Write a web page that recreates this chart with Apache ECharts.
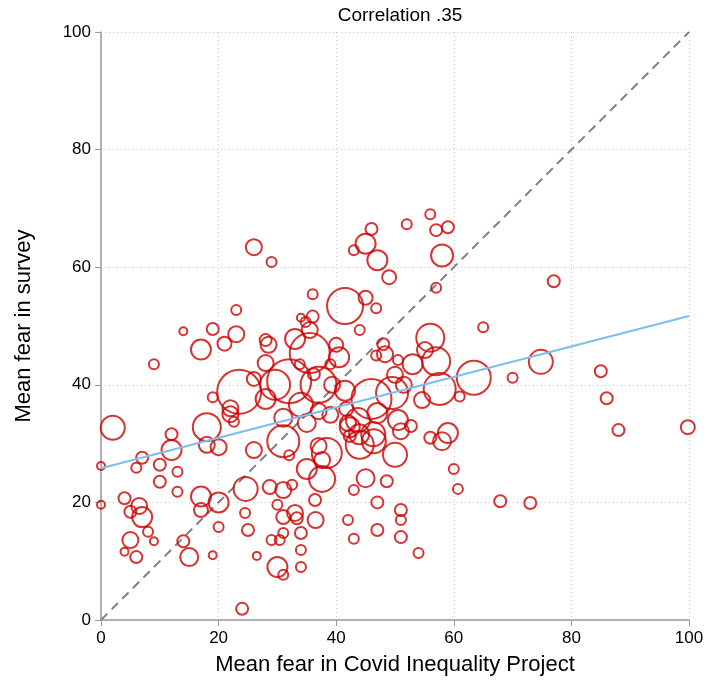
<!DOCTYPE html>
<html>
<head>
<meta charset="utf-8">
<script src="https://cdn.jsdelivr.net/npm/echarts@6/dist/echarts.min.js"></script>
<style>
  html, body { margin: 0; padding: 0; background: #fff; }
  #chart { width: 708px; height: 698px; }
</style>
</head>
<body>
<div id="chart"></div>
<script>
// [x, y, radius(px)]
const points = [
  [0,26.2,4],[0,19.6,4],[2,32.7,12],[4,20.7,6],[5,18.4,6],[5,13.6,8],[4,11.6,4],[6,10.7,6],
  [6.5,19.4,8],[7,17.5,10],[6,25.9,5],[7,27.6,6],[8,15,5],[9,43.5,5],[9,13.4,4],[10,26.4,6],
  [10,23.5,6],[12,31.6,6],[12,28.9,10],[13,25.2,5],[13,21.8,5],[14,49.1,4],[14,13.4,6],[15,10.7,9],
  [17,46,10],[17,21,10],[17,18.7,7],[18,32.8,14],[18,29.8,8],[19,49.5,6],[19,37.9,5],[19,11,4],
  [20,29.4,8],[20,15.8,5],[20,20,10],[21,47,7],[22,35,8],[22,36,8],[22.6,33.7,5],[23,48.6,8],
  [23,52.7,5],[23.5,38.8,22],[24.6,22.3,12],[24.5,18.2,5],[25,15.3,6],[26,63.4,8],[24,1.9,6],
  [26,28.9,8],[26,41,7],[26.5,10.9,4],[28,37.6,10],[28,47.6,6],[28.5,46.8,8],[28,43.7,8],
  [28.7,22.6,7],[29,60.9,5],[29,13.6,5],[30.4,13.6,5],[29.6,40,15],[30,19.6,5],[31,34.4,9],
  [31,30.4,16],[31,22.1,8],[31,17.5,7],[31,14.8,5],[30,9,10],[31,7.7,5],[32,40.6,22],[32,28,5],
  [32.5,23,5],[33,18.2,8],[33,47.8,10],[33.8,43.5,5],[34,36.6,12],[34,14.8,6],[34,11.9,5],
  [34,9,5],[33.3,17.3,6],[34,51.4,4],[34.8,50.7,5],[35,25.7,10],[35,33.5,9],[35.5,45.4,20],
  [35.5,49.3,8],[36,55.4,5],[36,51.6,6],[36.2,41.8,6],[37,40,18],[37,35.5,8],[37,29.6,8],
  [37.6,24,13],[37.6,27.2,8],[36.5,17,8],[36.4,20.4,6],[38.4,28.4,15],[39,34.9,8],[39.3,40,8],
  [39,43.5,5],[40,46.8,7],[40.5,44.7,10],[41.5,53.4,18],[41.5,39,10],[41.7,35.9,7],[42,33.5,8],
  [42.3,32.8,10],[42,17,5],[42.3,31.3,6],[43,62.9,5],[43,13.8,5],[43,22.1,5],[43.7,34,12],
  [43.9,31.6,10],[44,29.8,14],[44,49.3,5],[45,64,10],[45,54.8,7],[45,24.1,9],[46,66.5,6],
  [46,37.6,20],[46.3,31.6,12],[46.4,30.4,12],[46.8,45,5],[46.8,53,5],[47,35.2,10],[47,61.2,10],
  [47,20,6],[47,15.3,6],[48,46.9,6],[48.3,45.2,8],[48.6,23.6,6],[49,58.3,7],[49.5,38.6,16],
  [50,28.1,12],[50,41.7,8],[50.5,44.2,5],[50.5,34,10],[51,32.1,8],[51,18.7,6],[51,17,5],
  [51,14.1,6],[51.5,40,8],[52,67.3,5],[52.7,33,6],[53,43.5,10],[54,11.4,5],[54.6,37.4,8],
  [55.1,45.9,8],[56,48,14],[56,69,5],[56,31,6],[57,56.5,5],[57,66.3,6],[57,44,14],[57.6,39.3,16],
  [58,30.4,9],[58,62,11],[59,66.8,6],[59,31.8,10],[60,25.7,5],[60.7,22.3,5],[61,38,5],
  [63.4,41.2,17],[65,49.8,5],[67.9,20.2,6],[70,41.2,5],[73,19.9,6],[74.8,43.9,12],[77,57.6,6],
  [85,42.3,6],[86,37.7,6],[88,32.3,6],[99.8,32.8,7]
];
const fitLine = [[0, 25.8], [100, 51.7]];
const diagonal = [[0, 0], [100, 100]];

const chart = echarts.init(document.getElementById('chart'));
const font = 'Liberation Sans, Arial, sans-serif';
const gridLine = { show: true, lineStyle: { color: '#c8c8c8', type: [1, 3], width: 1 } };

chart.setOption({
  animation: false,
  title: {
    text: 'Correlation .35', left: 395, top: 1, textAlign: 'center',
    textStyle: { fontFamily: font, fontSize: 19, fontWeight: 'normal', color: '#000' }
  },
  grid: { left: 101, right: 19, top: 32, bottom: 78 },
  xAxis: {
    type: 'value', min: 0, max: 100, interval: 20,
    name: 'Mean fear in Covid Inequality Project', nameLocation: 'middle', nameGap: 34,
    nameTextStyle: { fontFamily: font, fontSize: 22, color: '#000' },
    axisLine: { show: true, onZero: false, lineStyle: { color: '#999', width: 1.5 } },
    axisTick: { show: true, length: 6, lineStyle: { color: '#999' } },
    axisLabel: { fontFamily: font, fontSize: 17, color: '#000', margin: 10 },
    splitLine: gridLine
  },
  yAxis: {
    type: 'value', min: 0, max: 100, interval: 20,
    name: 'Mean fear in survey', nameLocation: 'middle', nameGap: 66,
    nameTextStyle: { fontFamily: font, fontSize: 22, color: '#000' },
    axisLine: { show: true, onZero: false, lineStyle: { color: '#999', width: 1.5 } },
    axisTick: { show: true, length: 6, lineStyle: { color: '#999' } },
    axisLabel: { fontFamily: font, fontSize: 17, color: '#000', margin: 10 },
    splitLine: gridLine
  },
  series: [
    {
      type: 'scatter',
      data: points.map(p => [p[0], p[1], p[2]]),
      symbolSize: v => v[2] * 2,
      itemStyle: { color: 'rgba(0,0,0,0)', borderColor: '#cc0000', borderWidth: 2 },
      z: 3
    },
    {
      type: 'line', data: diagonal, symbol: 'none',
      lineStyle: { color: '#808080', width: 2, type: [9, 6] }, z: 2
    },
    {
      type: 'line', data: fitLine, symbol: 'none',
      lineStyle: { color: '#7cbfea', width: 2 }, z: 4
    }
  ]
});
</script>
</body>
</html>
